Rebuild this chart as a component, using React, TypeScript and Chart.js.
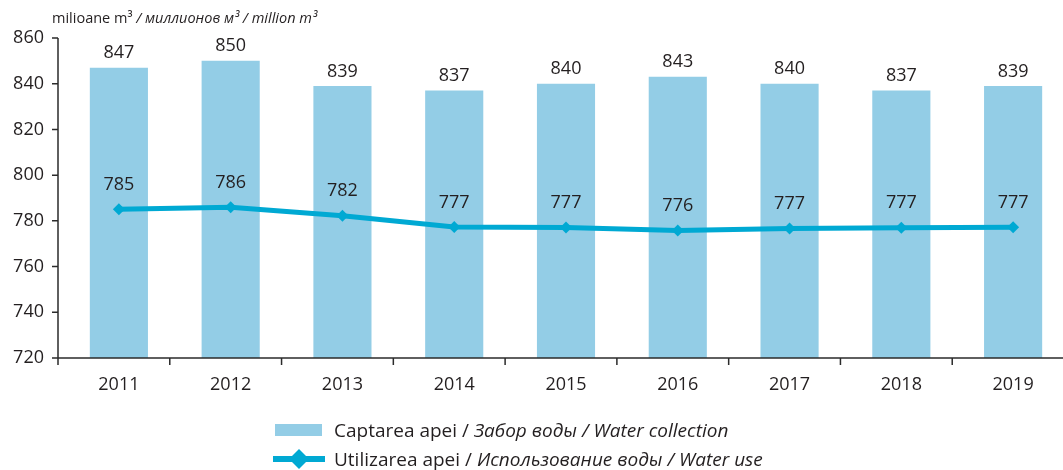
import React, { useEffect, useRef } from 'react';
import { Chart, registerables } from 'chart.js';

Chart.register(...registerables);

const years = ['2011', '2012', '2013', '2014', '2015', '2016', '2017', '2018', '2019'];
const waterCollection = [847, 850, 839, 837, 840, 843, 840, 837, 839];
const waterUse = [785.1, 785.9, 782.2, 777.3, 777.1, 775.8, 776.7, 777.0, 777.2];
const yMin = 720;
const yMax = 860;
const yStep = 20;

const unitRegular = 'milioane m³ ';
const unitItalic = '/ миллионов м³ / million m³';
const legendCollectionRegular = 'Captarea apei / ';
const legendCollectionItalic = 'Забор воды / Water collection';
const legendUseRegular = 'Utilizarea apei / ';
const legendUseItalic = 'Использование воды / Water use';

const FONT = '"Open Sans", "Noto Sans", sans-serif';
const TEXT = '#231f20';
const AXIS = '#2b2b2b';
const BAR = '#93cde6';
const LINE = '#00a9d3';
const SHIFT = 5;
const VIEW_W = 1063;
const CANVAS_W = 1080;
const H = 470;

function drawMixed(ctx: CanvasRenderingContext2D, x: number, y: number, size: number, regular: string, italic: string) {
  ctx.font = `${size}px ${FONT}`;
  ctx.fillText(regular, x, y);
  const w = ctx.measureText(regular).width;
  ctx.font = `italic ${size}px ${FONT}`;
  ctx.fillText(italic, x + w, y);
}

const decorPlugin = {
  id: 'decor',
  afterDatasetsDraw(chart: any) {
    const { ctx, chartArea, scales } = chart;
    const x = scales.x;
    const y = scales.y;
    const ax = chartArea.left - SHIFT;
    ctx.save();
    // axes
    ctx.strokeStyle = AXIS;
    ctx.lineWidth = 1.5;
    ctx.beginPath();
    ctx.moveTo(ax, y.getPixelForValue(yMax));
    ctx.lineTo(ax, chartArea.bottom + 7);
    ctx.moveTo(ax, chartArea.bottom);
    ctx.lineTo(chart.width, chartArea.bottom);
    y.ticks.forEach((t: any) => {
      const py = y.getPixelForValue(t.value);
      ctx.moveTo(ax - 6, py);
      ctx.lineTo(ax, py);
    });
    for (let i = 1; i < years.length; i++) {
      const px = (x.getPixelForValue(i - 1) + x.getPixelForValue(i)) / 2 - SHIFT;
      ctx.moveTo(px, chartArea.bottom);
      ctx.lineTo(px, chartArea.bottom + 7);
    }
    ctx.stroke();

    // data labels
    ctx.fillStyle = TEXT;
    ctx.font = `18px ${FONT}`;
    ctx.textAlign = 'center';
    ctx.textBaseline = 'alphabetic';
    const barMeta = chart.getDatasetMeta(1);
    barMeta.data.forEach((el: any, i: number) => {
      ctx.fillText(String(waterCollection[i]), el.x, el.y - 9.5);
    });
    const lineMeta = chart.getDatasetMeta(0);
    lineMeta.data.forEach((el: any, i: number) => {
      ctx.fillText(String(Math.round(waterUse[i])), el.x, el.y - 19.5);
    });

    // unit title
    ctx.textAlign = 'left';
    drawMixed(ctx, 52, 23, 14.5, unitRegular, unitItalic);

    // legend
    ctx.fillStyle = BAR;
    ctx.fillRect(275, 424, 47, 12);
    ctx.fillStyle = TEXT;
    drawMixed(ctx, 334, 437, 19, legendCollectionRegular, legendCollectionItalic);

    ctx.strokeStyle = LINE;
    ctx.lineWidth = 6;
    ctx.beginPath();
    ctx.moveTo(273, 459);
    ctx.lineTo(325, 459);
    ctx.stroke();
    ctx.fillStyle = LINE;
    ctx.beginPath();
    ctx.moveTo(299, 449);
    ctx.lineTo(309, 459);
    ctx.lineTo(299, 469);
    ctx.lineTo(289, 459);
    ctx.closePath();
    ctx.fill();
    ctx.fillStyle = TEXT;
    drawMixed(ctx, 334, 466, 19, legendUseRegular, legendUseItalic);
    ctx.restore();
  },
};

export default function App() {
  const ref = useRef<HTMLCanvasElement>(null);
  useEffect(() => {
    document.body.style.margin = '0';
    document.body.style.overflow = 'hidden';
    const canvas = ref.current;
    if (!canvas) return;
    const chart = new Chart(canvas, {
      type: 'bar',
      data: {
        labels: years,
        datasets: [
          {
            type: 'line',
            label: 'Water use',
            data: waterUse,
            borderColor: LINE,
            backgroundColor: LINE,
            borderWidth: 5,
            pointStyle: 'rectRot',
            pointRadius: 6,
            pointBackgroundColor: LINE,
            pointBorderColor: LINE,
            pointBorderWidth: 0,
            tension: 0,
          } as any,
          {
            type: 'bar',
            label: 'Water collection',
            data: waterCollection,
            backgroundColor: BAR,
            borderWidth: 0,
            categoryPercentage: 1,
            barPercentage: 0.52,
          },
        ],
      },
      options: {
        responsive: false,
        animation: false,
        devicePixelRatio: 1,
        layout: { padding: { top: 38, right: CANVAS_W - 1069, bottom: 72, left: 0 } },
        plugins: { legend: { display: false }, tooltip: { enabled: false }, title: { display: false } },
        scales: {
          x: {
            offset: true,
            border: { display: false },
            grid: { display: true, drawOnChartArea: false, drawTicks: false, offset: true },
            ticks: { color: TEXT, font: { family: FONT, size: 18 }, padding: 16, maxRotation: 0 },
            afterFit: (s: any) => { s.height = 40; s.paddingLeft = 0; s.paddingRight = 0; },
          },
          y: {
            min: yMin,
            max: yMax,
            border: { display: false },
            grid: { display: true, drawOnChartArea: false, drawTicks: false },
            ticks: { stepSize: yStep, color: TEXT, font: { family: FONT, size: 18 }, padding: 19 },
            afterFit: (s: any) => { s.width = 63; s.paddingTop = 0; s.paddingBottom = 0; },
          },
        },
      },
      plugins: [decorPlugin],
    });
    return () => chart.destroy();
  }, []);
  return (
    <div style={{ width: VIEW_W, height: H, overflow: 'hidden', background: '#fff' }}>
      <canvas ref={ref} width={CANVAS_W} height={H} style={{ display: 'block' }} />
    </div>
  );
}
